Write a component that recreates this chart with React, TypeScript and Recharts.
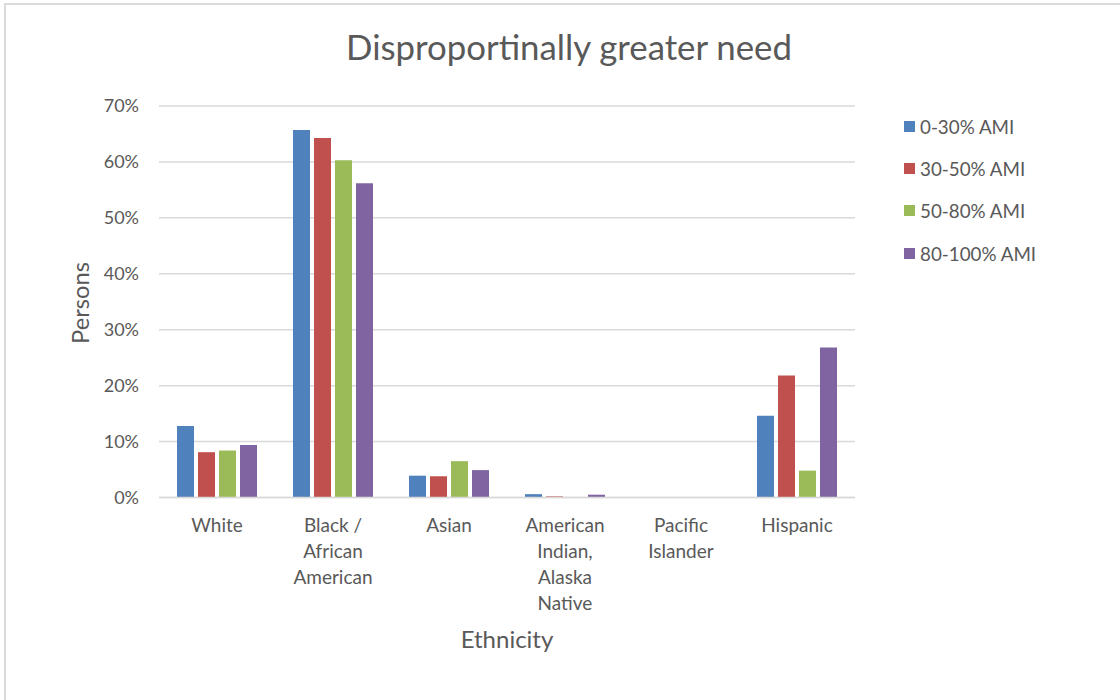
import React from "react";
import { BarChart, Bar, XAxis, YAxis, CartesianGrid, Label } from "recharts";

const categories = [
  "White",
  "Black / African American",
  "Asian",
  "American Indian, Alaska Native",
  "Pacific Islander",
  "Hispanic",
];
const tickLines: string[][] = [
  ["White"],
  ["Black /", "African", "American"],
  ["Asian"],
  ["American", "Indian,", "Alaska", "Native"],
  ["Pacific", "Islander"],
  ["Hispanic"],
];
const seriesNames = ["0-30% AMI", "30-50% AMI", "50-80% AMI", "80-100% AMI"];
const seriesColors = ["#4f81bd", "#c0504d", "#9bbb59", "#8064a2"];
const ami0_30 = [12.8, 65.7, 3.9, 0.6, 0, 14.6];
const ami30_50 = [8.1, 64.3, 3.8, 0.2, 0, 21.8];
const ami50_80 = [8.4, 60.3, 6.5, 0, 0, 4.8];
const ami80_100 = [9.4, 56.2, 4.9, 0.5, 0, 26.8];
const yTicks = [0, 10, 20, 30, 40, 50, 60, 70];

const seriesValues = [ami0_30, ami30_50, ami50_80, ami80_100];
const data = categories.map((c, i) => {
  const row: Record<string, any> = { category: c, idx: i };
  seriesNames.forEach((s, k) => (row[s] = seriesValues[k][i]));
  return row;
});

const FONT = "Lato, sans-serif";
const TXT = "#595959";

const XTick = (props: any) => {
  const { x, y, payload } = props;
  const i = categories.indexOf(payload.value);
  const lines = tickLines[i] || [payload.value];
  return (
    <text x={x} y={y} textAnchor="middle" fill={TXT} fontSize={19} fontFamily={FONT}>
      {lines.map((l, j) => (
        <tspan key={j} x={x} y={y + 26 + j * 26}>
          {l}
        </tspan>
      ))}
    </text>
  );
};

export default function App() {
  return (
    <div style={{ position: "fixed", left: 0, top: 0, width: 1120, height: 700, background: "#fff", fontFamily: FONT }}>
      <div
        style={{
          position: "absolute",
          left: 4,
          top: 3,
          width: 1116,
          height: 697,
          borderLeft: "2px solid #d9d9d9",
          borderTop: "2px solid #d9d9d9",
        }}
      />
      <div
        style={{
          position: "absolute",
          left: 0,
          width: 1138,
          top: 27,
          textAlign: "center",
          fontSize: 34.8,
          color: TXT,
          lineHeight: "40px",
        }}
      >
        Disproportinally greater need
      </div>
      <div style={{ position: "absolute", left: 0, top: 0 }}>
        <BarChart
          width={1120}
          height={700}
          data={data}
          margin={{ top: 106, right: 265, bottom: 0, left: 0 }}
          barCategoryGap={18}
          barGap={4}
        >
          <CartesianGrid vertical={false} stroke="#d9d9d9" strokeWidth={1.5} />
          <XAxis
            dataKey="category"
            height={202.5}
            axisLine={{ stroke: "#d9d9d9", strokeWidth: 1.5 }}
            tickLine={false}
            interval={0}
            tick={<XTick />}
          >
            <Label
              content={() => (
                <text x={507} y={648} textAnchor="middle" fill={TXT} fontSize={24} fontFamily={FONT}>
                  Ethnicity
                </text>
              )}
            />
          </XAxis>
          <YAxis
            width={159}
            domain={[0, 70]}
            ticks={yTicks}
            tickFormatter={(v: number) => `${v}%`}
            axisLine={false}
            tickLine={false}
            tickSize={0}
            tickMargin={20}
            tick={{ fill: TXT, fontSize: 18, fontFamily: FONT }}
          >
            <Label
              content={() => (
                <text
                  x={80}
                  y={303}
                  transform="rotate(-90 80 303)"
                  textAnchor="middle"
                  dominantBaseline="central"
                  fill={TXT}
                  fontSize={23.7}
                  fontFamily={FONT}
                >
                  Persons
                </text>
              )}
            />
          </YAxis>
          {seriesNames.map((s, k) => (
            <Bar key={s} dataKey={s} fill={seriesColors[k]} isAnimationActive={false} />
          ))}
        </BarChart>
      </div>
      {seriesNames.map((s, k) => (
        <div
          key={s}
          style={{
            position: "absolute",
            left: 904,
            top: 126 + k * 42.4 - 12,
            height: 24,
            display: "flex",
            alignItems: "center",
            fontSize: 18.8,
            color: TXT,
          }}
        >
          <span style={{ display: "inline-block", width: 11, height: 11, background: seriesColors[k], marginRight: 5 }} />
          <span>{s}</span>
        </div>
      ))}
    </div>
  );
}
